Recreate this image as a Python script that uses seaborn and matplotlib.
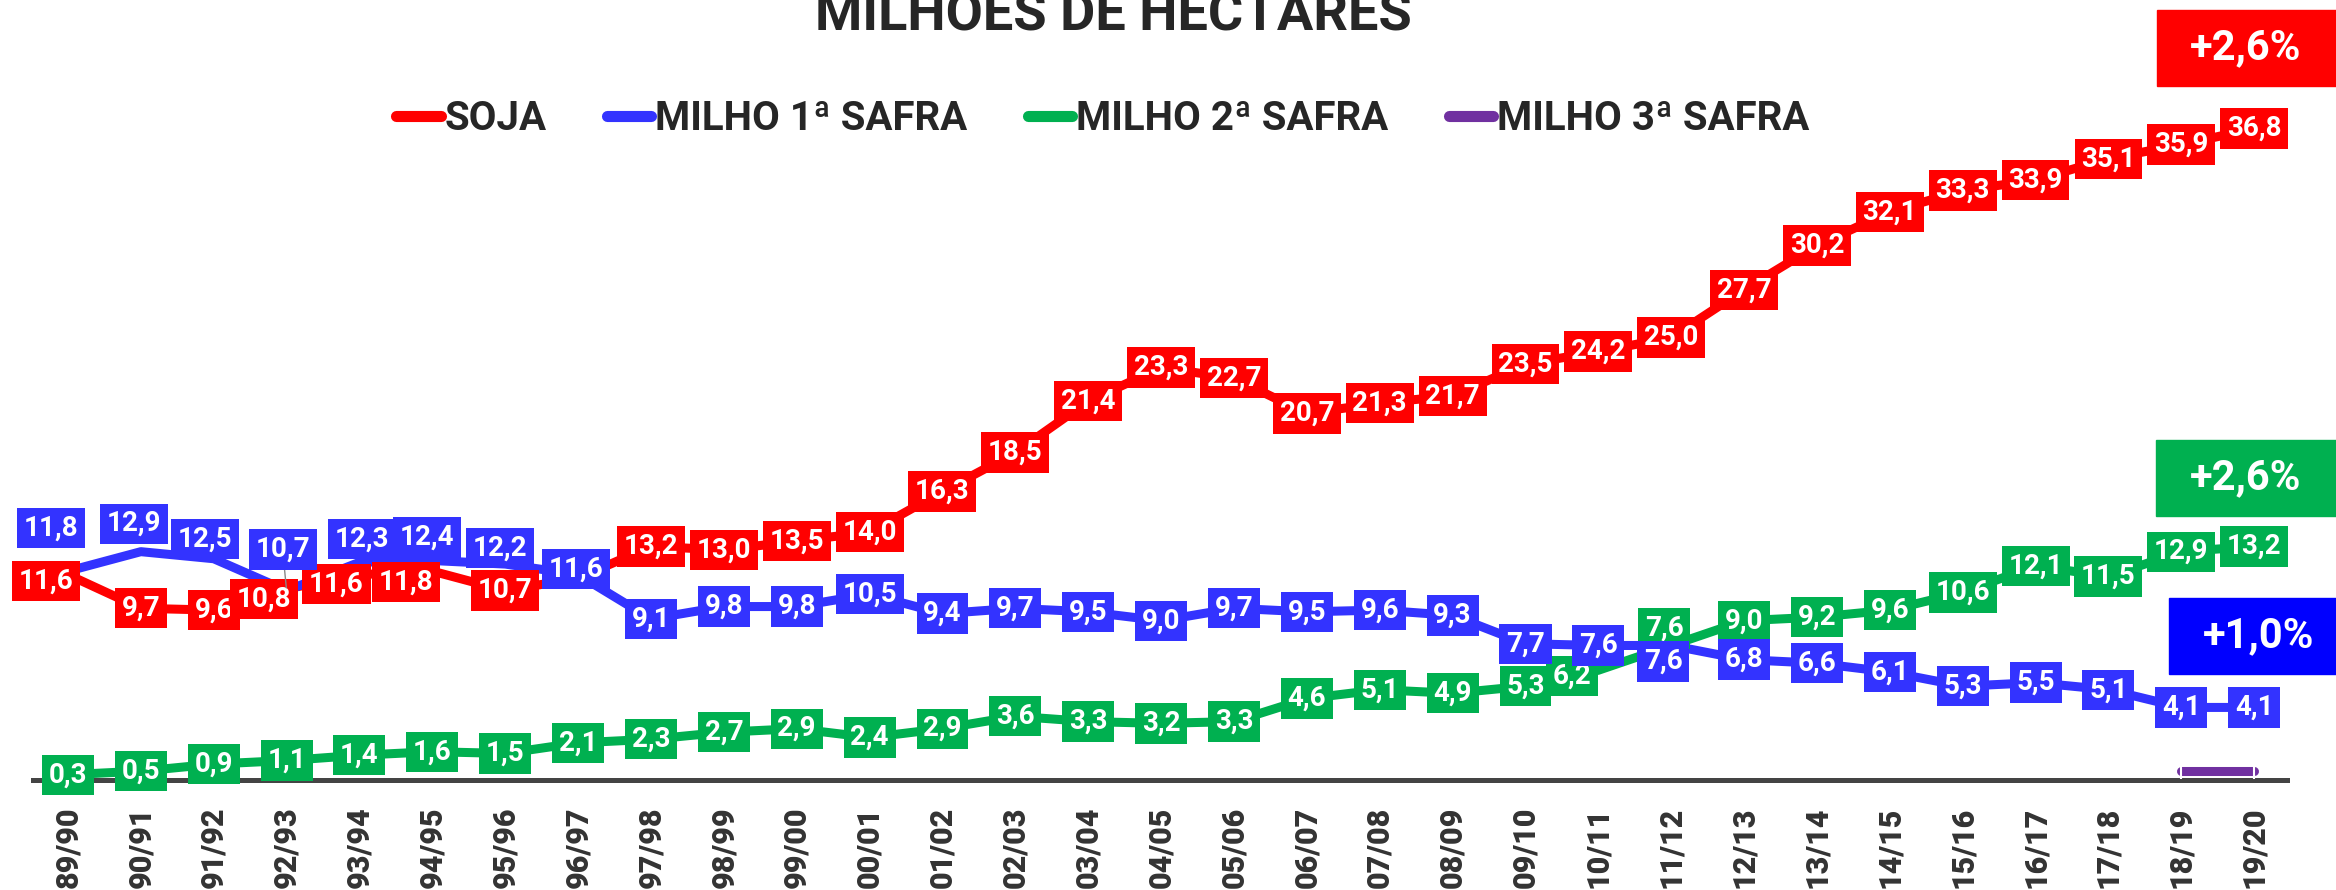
import matplotlib
matplotlib.use("Agg")
import matplotlib.pyplot as plt
import seaborn as sns
import pandas as pd
from matplotlib.lines import Line2D
from matplotlib.patches import Rectangle

# Data (milhoes de hectares)
safras = ["89/90", "90/91", "91/92", "92/93", "93/94", "94/95", "95/96", "96/97",
          "97/98", "98/99", "99/00", "00/01", "01/02", "02/03", "03/04", "04/05",
          "05/06", "06/07", "07/08", "08/09", "09/10", "10/11", "11/12", "12/13",
          "13/14", "14/15", "15/16", "16/17", "17/18", "18/19", "19/20"]
soja = [11.6, 9.7, 9.6, 10.8, 11.6, 11.8, 10.7, 11.4, 13.2, 13.0, 13.5, 14.0, 16.3,
        18.5, 21.4, 23.3, 22.7, 20.7, 21.3, 21.7, 23.5, 24.2, 25.0, 27.7, 30.2,
        32.1, 33.3, 33.9, 35.1, 35.9, 36.8]
milho1 = [11.8, 12.9, 12.5, 10.7, 12.3, 12.4, 12.2, 11.6, 9.1, 9.8, 9.8, 10.5, 9.4,
          9.7, 9.5, 9.0, 9.7, 9.5, 9.6, 9.3, 7.7, 7.6, 7.6, 6.8, 6.6, 6.1, 5.3,
          5.5, 5.1, 4.1, 4.1]
milho2 = [0.3, 0.5, 0.9, 1.1, 1.4, 1.6, 1.5, 2.1, 2.3, 2.7, 2.9, 2.4, 2.9, 3.6, 3.3,
          3.2, 3.3, 4.6, 5.1, 4.9, 5.3, 6.2, 7.6, 9.0, 9.2, 9.6, 10.6, 12.1, 11.5,
          12.9, 13.2]
milho3_safras = ["18/19", "19/20"]
milho3 = [0.5, 0.5]

series_names = ["SOJA", "MILHO 1ª SAFRA", "MILHO 2ª SAFRA", "MILHO 3ª SAFRA"]
growth = ["+2,6%", "+2,6%", "+1,0%"]

colors = {"SOJA": "#FF0000", "MILHO 1ª SAFRA": "#3333FF",
          "MILHO 2ª SAFRA": "#00B050", "MILHO 3ª SAFRA": "#7030A0"}

# long table for seaborn
rows = []
for name, vals in zip(series_names[:3], [soja, milho1, milho2]):
    for i, v in enumerate(vals):
        rows.append({"idx": i, "safra": safras[i], "serie": name, "area": v})
for s, v in zip(milho3_safras, milho3):
    rows.append({"idx": safras.index(s), "safra": s, "serie": series_names[3], "area": v})
df = pd.DataFrame(rows)

sns.set_style("white")
plt.rcParams["font.family"] = ["Roboto", "DejaVu Sans"]

W, H = 2336, 890
fig = plt.figure(figsize=(W / 100, H / 100), dpi=100)
ax = fig.add_axes([33 / W, 110 / H, (2287 - 33) / W, 708 / H])

sns.lineplot(data=df[df.serie != series_names[3]], x="idx", y="area", hue="serie",
             palette=colors, linewidth=6.5, legend=False, ax=ax, sort=True,
             solid_capstyle="round", solid_joinstyle="round")
sns.lineplot(data=df[df.serie == series_names[3]], x="idx", y="area",
             color=colors[series_names[3]], linewidth=6.5, legend=False, ax=ax,
             solid_capstyle="round", marker="|", markersize=11,
             markeredgecolor="white", markeredgewidth=1.5)

ax.set_xlim(-0.48, 30.45)
ax.set_ylim(0, 40)
ax.set_yticks([])
ax.set_xlabel("")
ax.set_ylabel("")
ax.set_xticks(range(len(safras)))
ax.set_xticklabels(safras, rotation=90, fontsize=22, fontweight="heavy", color="#333333")
ax.tick_params(axis="x", length=0, pad=19)
for side in ["top", "left", "right"]:
    ax.spines[side].set_visible(False)
ax.spines["bottom"].set_linewidth(3.6)
ax.spines["bottom"].set_color("#444444")
ax.spines["bottom"].set_zorder(1)

# label offsets in pixels (dx, dy) where labels were nudged apart
offsets = {
    "SOJA": {0: (-22, -6), 3: (-23, -10), 4: (-23, -9), 5: (-26, -11)},
    "MILHO 1ª SAFRA": {0: (-17, 43), 1: (-7, 28), 2: (-9, 20), 3: (-4, 41),
                       4: (2, 23), 5: (-5, 23), 6: (-5, 16), 7: (-2, 6), 22: (-8, -16)},
    "MILHO 2ª SAFRA": {21: (-26, -6), 22: (-7, 17)},
}
hidden = {"SOJA": [7]}
leader = {"MILHO 1ª SAFRA": [3]}

def fmt(v):
    return f"{v:.1f}".replace(".", ",")

for name, vals in [("MILHO 2ª SAFRA", milho2), ("SOJA", soja), ("MILHO 1ª SAFRA", milho1)]:
    for i, v in enumerate(vals):
        if i in hidden.get(name, []):
            continue
        dx, dy = offsets.get(name, {}).get(i, (0, 0))
        arrow = None
        if i in leader.get(name, []):
            arrow = dict(arrowstyle="-", color="#888888", lw=1, shrinkA=0, shrinkB=2)
        ax.annotate(fmt(v), xy=(i, v), xytext=(dx, dy), textcoords="offset pixels",
                    ha="center", va="center", fontsize=20, fontweight="bold",
                    color="white", annotation_clip=False, zorder=5,
                    arrowprops=arrow,
                    bbox=dict(boxstyle="square,pad=0.24", fc=colors[name], ec="none"))

# legend
handles = [Line2D([0], [0], color=colors[n], lw=8, solid_capstyle="round")
           for n in series_names]
fig.legend(handles, series_names, loc="center", bbox_to_anchor=(1103 / W, 1 - 119 / H),
           ncol=4, frameon=False, handlelength=1.1, handletextpad=0.1,
           columnspacing=1.5, prop=dict(family="Roboto", weight="bold", size=29))

# title (cut at the top like the original)
fig.text(1113 / W, 1 - 30 / H, "MILHÕES DE HECTARES", ha="center", va="baseline",
         fontsize=39, fontweight="bold", color="#262626")

# growth badges
badges = [
    (growth[0], "#FF0000", 2157, 10, 86, 2246),
    (growth[1], "#00B050", 2156, 440, 516, 2246),
    (growth[2], "#0000FF", 2169, 598, 674, 2259),
]
for txt, c, x0, y0, y1, xc in badges:
    fig.add_artist(Rectangle((x0 / W, 1 - y1 / H), (W - x0) / W, (y1 - y0) / H,
                             transform=fig.transFigure, color=c, zorder=6))
    fig.text(xc / W, 1 - (y0 + y1) / 2 / H, txt, ha="center", va="center",
             fontsize=30, fontweight="bold", color="white", zorder=7)

plt.savefig("out.png", dpi=100)
plt.close()
